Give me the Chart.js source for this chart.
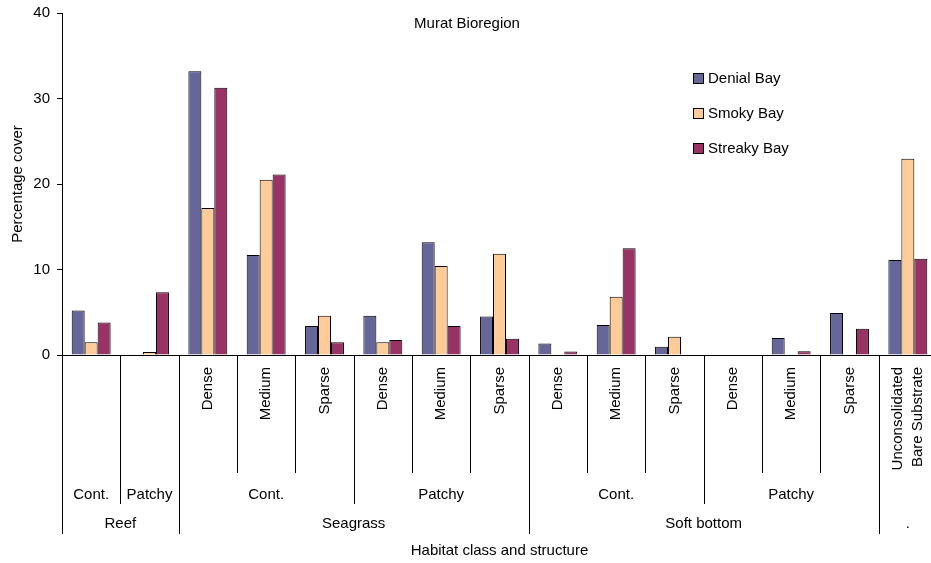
<!DOCTYPE html>
<html>
<head>
<meta charset="utf-8">
<script src="https://cdn.jsdelivr.net/npm/chart.js@4/dist/chart.umd.min.js"></script>
<style>
  html, body { margin: 0; padding: 0; background: #fff; overflow: hidden; }
  #wrap { width: 940px; height: 563px; }
</style>
</head>
<body>
<div id="wrap"><canvas id="myChart"></canvas></div>
<script>
const fontFamily = "'Liberation Sans', Arial, sans-serif";

// Data
const structures = ["", "", "Dense", "Medium", "Sparse", "Dense", "Medium", "Sparse",
    "Dense", "Medium", "Sparse", "Dense", "Medium", "Sparse", ["Unconsolidated", "Bare Substrate"]];
const densityGroups = [["Cont.", 0, 0], ["Patchy", 1, 1], ["Cont.", 2, 4], ["Patchy", 5, 7],
    ["Cont.", 8, 10], ["Patchy", 11, 13], ["", 14, 14]];
const habitatClasses = [["Reef", 0, 1], ["Seagrass", 2, 7], ["Soft bottom", 8, 13], [".", 14, 14]];
const seriesNames = ["Denial Bay", "Smoky Bay", "Streaky Bay"];
const denialBay = [5.2, 0.1, 33.2, 11.7, 3.4, 4.6, 13.2, 4.5, 1.35, 3.5, 0.97, 0, 2.0, 4.9, 11.1];
const smokyBay = [1.5, 0.35, 17.2, 20.5, 4.6, 1.5, 10.4, 11.85, 0, 6.8, 2.13, 0, 0, 0, 22.95];
const streakyBay = [3.8, 7.35, 31.25, 21.1, 1.5, 1.75, 3.4, 1.9, 0.4, 12.5, 0.05, 0.05, 0.45, 3.07, 11.25];
const barColors = ["#666699", "#ffcc99", "#993366"];
const yTicks = [0, 10, 20, 30, 40];

const labels = structures.map(s => Array.isArray(s) ? s.join(" ") : s);

// draws title, legend and the multi-level category axis
const decorations = {
    id: 'decorations',
    afterDraw(chart) {
        const { ctx } = chart;
        const x = chart.scales.x;
        const n = labels.length;
        const w = (x.right - x.left) / n;
        const edge = i => Math.round(x.left + i * w) + 0.5;
        const mid = (a, b) => (x.left + a * w + x.left + (b + 1) * w) / 2;
        ctx.save();
        ctx.fillStyle = "#000";
        ctx.font = "15px " + fontFamily;

        // title
        ctx.textAlign = 'center';
        ctx.textBaseline = 'middle';
        ctx.fillText("Murat Bioregion", 467, 24);

        // legend
        ctx.textAlign = 'left';
        seriesNames.forEach((name, i) => {
            const cy = 79 + i * 35;
            ctx.fillStyle = barColors[i];
            ctx.fillRect(693.5, cy - 5.5, 10, 10);
            ctx.strokeStyle = "#000";
            ctx.lineWidth = 1;
            ctx.strokeRect(693.5, cy - 5.5, 10, 10);
            ctx.fillStyle = "#000";
            ctx.fillText(name, 708, cy);
        });

        // separators
        const level3 = new Set([0, n]);
        habitatClasses.forEach(g => { level3.add(g[1]); level3.add(g[2] + 1); });
        const level2 = new Set();
        densityGroups.forEach(g => { level2.add(g[1]); level2.add(g[2] + 1); });
        ctx.strokeStyle = "#000";
        ctx.lineWidth = 1;
        for (let i = 0; i <= n; i++) {
            const depth = level3.has(i) ? 534 : (level2.has(i) ? 504 : 473);
            ctx.beginPath();
            ctx.moveTo(edge(i), x.top);
            ctx.lineTo(edge(i), depth);
            ctx.stroke();
        }

        // rotated structure labels
        structures.forEach((s, i) => {
            const lines = Array.isArray(s) ? s : [s];
            const cx = x.getPixelForValue(i);
            ctx.save();
            ctx.translate(cx, 367);
            ctx.rotate(-Math.PI / 2);
            ctx.textAlign = 'right';
            ctx.textBaseline = 'middle';
            lines.forEach((t, j) => {
                ctx.fillText(t, 0, (j - (lines.length - 1) / 2) * 20);
            });
            ctx.restore();
        });

        ctx.textAlign = 'center';
        ctx.textBaseline = 'middle';
        densityGroups.forEach(g => ctx.fillText(g[0], mid(g[1], g[2]), 495));
        habitatClasses.forEach(g => ctx.fillText(g[0], mid(g[1], g[2]), 524));
        ctx.fillText("Habitat class and structure", (x.left + x.right) / 2, 551);
        ctx.restore();
    }
};

new Chart("myChart", {
    type: "bar",
    data: {
        labels: labels,
        datasets: [denialBay, smokyBay, streakyBay].map((d, i) => ({
            label: seriesNames[i],
            data: d,
            backgroundColor: barColors[i],
            borderColor: "#000",
            borderWidth: 1,
            categoryPercentage: 0.667,
            barPercentage: 1.0,
        })),
    },
    options: {
        responsive: true,
        maintainAspectRatio: false,
        animation: false,
        layout: {
            padding: { top: 13, right: 3, bottom: 208, left: 0 }
        },
        plugins: {
            legend: { display: false },
            tooltip: { enabled: false },
            title: { display: false },
        },
        scales: {
            x: {
                ticks: { display: false },
                grid: { display: false },
                border: { display: true, color: "#000" },
                afterFit(scale) { scale.height = 0; },
            },
            y: {
                min: 0,
                max: 40,
                afterBuildTicks(scale) { scale.ticks = yTicks.map(v => ({ value: v })); },
                ticks: {
                    color: "#000",
                    padding: 7,
                    font: { family: fontFamily, size: 15 },
                },
                grid: {
                    drawOnChartArea: false,
                    drawTicks: true,
                    tickLength: 5,
                    color: "#000",
                },
                border: { display: true, color: "#000" },
                title: {
                    display: true,
                    text: "Percentage cover",
                    color: "#000",
                    padding: { top: 9, bottom: 0 },
                    font: { family: fontFamily, size: 15 },
                },
                afterFit(scale) {
                    scale.width = 62;
                    scale.paddingTop = 0;
                    scale.paddingBottom = 0;
                },
            },
        },
    },
    plugins: [decorations]
});
</script>
</body>
</html>
